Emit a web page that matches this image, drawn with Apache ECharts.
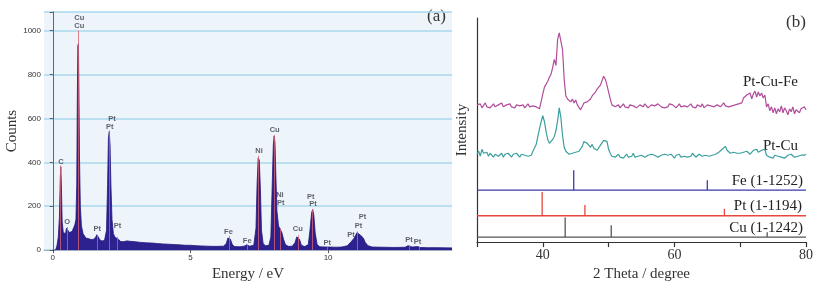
<!DOCTYPE html>
<html><head><meta charset="utf-8">
<script src="https://cdn.jsdelivr.net/npm/echarts@6/dist/echarts.min.js"></script>
<style>html,body{margin:0;padding:0;background:#fff}#c{width:824px;height:287px}</style>
</head><body><div id="c"></div>
<script>
// ---------- (a) EDS spectrum ----------
const edsEnergy = [0,0.10,0.15,0.20,0.24,0.27,0.29,0.31,0.34,0.38,0.42,0.46,0.50,0.52,0.55,0.60,0.65,0.70,0.75,0.80,0.84,0.87,0.89,0.91,0.93,0.95,0.97,1.00,1.04,1.10,1.20,1.30,1.40,1.50,1.56,1.60,1.65,1.72,1.80,1.88,1.95,1.99,2.02,2.05,2.08,2.11,2.15,2.20,2.26,2.32,2.38,2.45,2.55,2.62,2.70,2.80,3.0,3.2,3.4,3.6,3.8,4.0,4.2,4.4,4.6,4.8,5.0,5.2,5.4,5.6,5.8,6.0,6.2,6.3,6.36,6.40,6.45,6.52,6.6,6.8,6.95,7.05,7.15,7.30,7.38,7.42,7.46,7.50,7.54,7.58,7.64,7.72,7.85,7.92,7.97,8.01,8.04,8.07,8.10,8.14,8.20,8.26,8.32,8.38,8.45,8.55,8.70,8.80,8.86,8.91,8.96,9.03,9.15,9.28,9.34,9.40,9.44,9.48,9.53,9.60,9.70,9.90,9.97,10.05,10.3,10.5,10.7,10.85,10.95,11.05,11.12,11.20,11.28,11.35,11.45,11.6,12.0,12.4,12.8,12.9,12.96,13.05,13.25,13.35,13.6,14.0,14.5];
const edsCounts = [0,0,20,60,150,320,380,300,130,80,72,75,100,108,95,80,78,85,100,115,140,300,680,930,940,700,420,200,110,75,55,52,48,50,60,70,60,45,42,45,90,300,510,540,480,300,140,75,58,62,50,40,38,45,42,40,38,35,33,32,30,28,27,25,24,22,22,20,19,18,17,17,18,30,55,62,50,25,16,15,18,24,18,22,100,300,420,410,280,90,30,20,22,60,300,480,520,490,350,180,110,95,80,50,25,17,18,35,60,65,50,22,16,25,90,170,185,160,80,25,15,14,18,14,13,14,20,40,55,80,85,65,55,35,20,14,13,12,13,20,22,14,16,12,11,11,10];
const peakEnergy = [0.28,0.52,0.93,1.60,2.05,2.33,6.40,7.05,7.47,8.04,8.26,8.90,9.44,9.98,11.07,12.94,13.30];
const peakHeight = [385,105,1000,68,545,60,65,24,430,525,100,68,185,15,85,22,14];
const labelText = ['C','O','Cu','Cu','Pt','Pt','Pt','Pt','Fe','Fe','Ni','Cu','Ni','Pt','Cu','Pt','Pt','Pt','Pt','Pt','Pt','Pt','Pt'];
const labelEnergy = [0.30,0.52,0.96,0.96,1.61,2.15,2.07,2.35,6.38,7.06,7.49,8.06,8.25,8.28,8.90,9.37,9.45,9.97,10.83,11.10,11.25,12.94,13.25];
const labelCounts = [404,130,1058,1021,98,596,560,108,85,42,453,547,251,217,97,242,209,34,67,112,150,45,35];
const edsYTicks = [0,200,400,600,800,1000];
const edsXTicks = [0,5,10];

// ---------- (b) XRD ----------
const twoThetaStart = 30, twoThetaStep = 0.25;
const ptCuFe = [
 11,9,12,8,10,13,9,11,8,10,
 12,9,7,11,10,13,9,8,11,10,
 12,9,10,8,11,13,10,9,11,8,
 10,12,9,11,10,8,9,11,
 7,8,22,29,31,35,39,42,49,57,
 51,77,84,85,67,37,20,17,19,14,
 17,13,16,11,9,6,8,13,15,14,
 16,17,20,22,24,27,29,31,33,40,
 37,31,24,17,11,13,9,
 9,11,8,10,12,9,10,8,11,9,
 10,12,8,9,11,10,9,12,10,8,
 10,11,9,10,8,12,10,9,11,8,
 10,9,12,10,11,9,8,10,12,9,
 11,10,8,9,11,12,9,10,8,11,
 10,9,12,8,10,11,9,10,12,9,
 8,11,10,9,11,13,10,12,9,11,
 10,12,11,13,
 12,14,13,18,16,21,19,23,17,22,
 25,19,24,20,23,18,21,9,12,5,
 9,3,8,2,7,4,10,3,8,5,
 1,7,4,9,2,6,8,3,7,5,
 9,6];
const ptCu = [
 11,14,9,16,12,10,13,9,12,10,
 8,11,13,9,10,12,8,11,9,12,
 10,8,11,9,12,10,8,11,9,10,
 12,9,11,10,14,16,21,29,
 37,44,50,44,34,26,22,24,26,29,
 35,45,58,48,30,18,14,12,11,13,
 12,10,13,11,14,16,19,24,26,22,
 20,18,21,17,16,15,17,20,22,25,
 27,24,16,12,9,11,8,
 9,11,8,10,7,9,11,8,10,9,
 12,8,10,9,7,10,11,8,9,10,
 8,11,9,10,12,8,9,10,8,11,
 9,10,8,11,9,7,10,9,11,8,
 10,9,11,8,10,9,12,10,8,9,
 11,10,9,8,10,12,9,11,10,9,
 11,12,13,14,16,18,19,15,13,12,
 14,13,15,12,
 11,12,10,13,12,14,12,11,13,15,
 14,16,13,12,15,14,16,10,9,8,
 9,7,10,8,9,11,8,10,7,9,
 10,8,11,9,8,10,9,11,10,9,
 10,11];
const fePeaks = [44.7, 65.0], feInt = [20, 10];
const ptPeaks = [39.9, 46.4, 67.6], ptInt = [24, 11, 7];
const cuPeaks = [43.4, 50.4, 74.1], cuInt = [20, 12, 5];
const xrdXTicks = [40, 60, 80];

// ---------- build ----------
const serif = 'Liberation Serif';
const edsData = edsEnergy.map((e, i) => [e, edsCounts[i]]);
const xrdTrace = (arr, off) => arr.map((v, i) => [twoThetaStart + i * twoThetaStep, v + off]);
function sticks(peaks, ints, base) {
  const d = [[30, base]];
  peaks.forEach((p, i) => { d.push([p, base], [p, base + ints[i]], [p, base]); });
  d.push([80, base]);
  return d;
}
const OFF = {pcf: 128, pc: 78, fe: 52.7, pt: 26.7, cu: 5};

const chart = echarts.init(document.getElementById('c'), null, {renderer: 'canvas'});
chart.setOption({
  animation: false,
  grid: [
    {left: 44, right: 372, top: 12, bottom: 32, show: true, backgroundColor: '#edf5fb', borderWidth: 0},
    {left: 477, right: 18, top: 18, bottom: 42}
  ],
  xAxis: [
    {gridIndex: 0, type: 'value', min: -0.32, max: 14.5,
     axisLine: {show: true, lineStyle: {color: '#8a8a9a', width: 0.6}},
     axisTick: {show: true, customValues: edsXTicks, length: 3, lineStyle: {color: '#555'}},
     axisLabel: {customValues: edsXTicks, fontSize: 8, color: '#333', margin: 4, fontFamily: 'Liberation Sans'},
     splitLine: {show: false},
     name: 'Energy / eV', nameLocation: 'middle', nameGap: 12,
     nameTextStyle: {fontFamily: serif, fontSize: 15, color: '#333'}},
    {gridIndex: 1, type: 'value', min: 30, max: 80, interval: 10,
     axisLine: {show: true, lineStyle: {color: '#333', width: 1.2}},
     axisTick: {show: true, length: 5, lineStyle: {color: '#333', width: 1.2}},
     axisLabel: {customValues: xrdXTicks, fontFamily: serif, fontSize: 14, color: '#333', margin: 6},
     splitLine: {show: false},
     name: '2 Theta / degree', nameLocation: 'middle', nameGap: 20,
     nameTextStyle: {fontFamily: serif, fontSize: 15, color: '#333'}}
  ],
  yAxis: [
    {gridIndex: 0, type: 'value', min: 0, max: 1085, interval: 200,
     axisLine: {show: true, lineStyle: {color: '#666', width: 1}},
     axisTick: {show: true, length: 3, lineStyle: {color: '#555'}},
     axisLabel: {customValues: edsYTicks, fontSize: 8, color: '#333', margin: 3, fontFamily: 'Liberation Sans',
       formatter: v => String(v)},
     splitLine: {show: true, lineStyle: {color: '#a8d7ee', width: 1.5}},
     name: 'Counts', nameLocation: 'middle', nameGap: 20, nameRotate: 90,
     nameTextStyle: {fontFamily: serif, fontSize: 15, color: '#333'}},
    {gridIndex: 1, type: 'value', min: 0, max: 227,
     axisLine: {show: true, lineStyle: {color: '#333', width: 1.2}},
     axisTick: {show: false}, axisLabel: {show: false}, splitLine: {show: false},
     name: 'Intensity', nameLocation: 'middle', nameGap: 7, nameRotate: 90,
     nameTextStyle: {fontFamily: serif, fontSize: 15, color: '#333'}}
  ],
  series: [
    {type: 'line', xAxisIndex: 0, yAxisIndex: 0, data: edsData, showSymbol: false, silent: true,
     lineStyle: {color: '#24187e', width: 0.8}, areaStyle: {color: '#2d2190', opacity: 1},
     markLine: {silent: true, symbol: 'none', animation: false, label: {show: false},
       lineStyle: {color: '#d8606e', width: 0.8, type: 'solid'},
       data: peakEnergy.map((e, i) => [{coord: [e, 0]}, {coord: [e, peakHeight[i]]}])}},
    {type: 'scatter', xAxisIndex: 0, yAxisIndex: 0, symbolSize: 0, silent: true,
     data: labelEnergy.map((e, i) => ({value: [e, labelCounts[i]], name: labelText[i]})),
     label: {show: true, position: 'inside', formatter: p => p.name, fontSize: 7.5, fontWeight: 'bold',
       color: '#3a3a4a', fontFamily: 'Liberation Sans'}},
    {type: 'line', xAxisIndex: 1, yAxisIndex: 1, data: xrdTrace(ptCuFe, OFF.pcf), showSymbol: false, silent: true,
     lineStyle: {color: '#b24d9c', width: 1.2}},
    {type: 'line', xAxisIndex: 1, yAxisIndex: 1, data: xrdTrace(ptCu, OFF.pc), showSymbol: false, silent: true,
     lineStyle: {color: '#3c9f9f', width: 1.2}},
    {type: 'line', xAxisIndex: 1, yAxisIndex: 1, data: sticks(fePeaks, feInt, OFF.fe), showSymbol: false, silent: true,
     lineStyle: {color: '#3a3ab0', width: 1.3}},
    {type: 'line', xAxisIndex: 1, yAxisIndex: 1, data: sticks(ptPeaks, ptInt, OFF.pt), showSymbol: false, silent: true,
     lineStyle: {color: '#e8463e', width: 1.3}},
    {type: 'line', xAxisIndex: 1, yAxisIndex: 1, data: sticks(cuPeaks, cuInt, OFF.cu), showSymbol: false, silent: true,
     lineStyle: {color: '#555555', width: 1.3}}
  ],
  graphic: [
    {type: 'text', left: 427, top: 8, style: {text: '(a)', font: '17px "Liberation Serif"', fill: '#333'}},
    {type: 'text', left: 786, top: 14, style: {text: '(b)', font: '17px "Liberation Serif"', fill: '#333'}},
    {type: 'text', right: 26, top: 75, style: {text: 'Pt-Cu-Fe', font: '15px "Liberation Serif"', fill: '#222'}},
    {type: 'text', right: 26, top: 139, style: {text: 'Pt-Cu', font: '15px "Liberation Serif"', fill: '#222'}},
    {type: 'text', right: 21, top: 174, style: {text: 'Fe (1-1252)', font: '15px "Liberation Serif"', fill: '#222'}},
    {type: 'text', right: 22, top: 199, style: {text: 'Pt (1-1194)', font: '15px "Liberation Serif"', fill: '#222'}},
    {type: 'text', right: 21, top: 221, style: {text: 'Cu (1-1242)', font: '15px "Liberation Serif"', fill: '#222'}}
  ]
});
</script></body></html>
